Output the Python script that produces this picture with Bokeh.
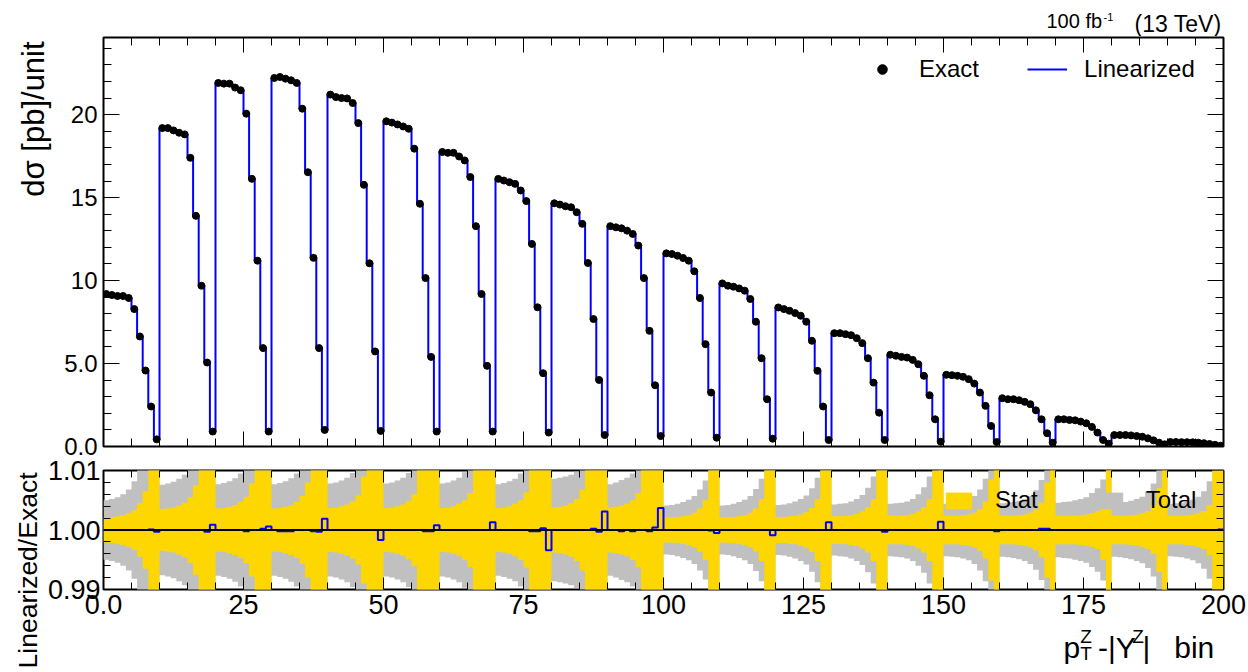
import math
from bokeh.plotting import figure
from bokeh.layouts import column, row
from bokeh.models import FixedTicker, LinearAxis, Legend, LegendItem, Span, Range1d
from bokeh.core.properties import value
from bokeh.embed import file_html
from bokeh.resources import INLINE

FONT = "Liberation Sans"

# ---------------- data ----------------
# 20 groups (pT bins) x 10 sub-bins (|Y| bins)
exact_groups = [
    [9.19, 9.13, 9.07, 9.07, 8.95, 8.28, 6.63, 4.58, 2.41, 0.43],
    [19.19, 19.19, 19.05, 18.91, 18.81, 17.40, 13.90, 9.69, 5.06, 0.90],
    [21.91, 21.87, 21.87, 21.63, 21.47, 20.06, 16.13, 11.20, 5.93, 0.90],
    [22.21, 22.27, 22.17, 22.07, 21.91, 20.36, 16.53, 11.37, 5.93, 1.00],
    [21.21, 21.06, 21.00, 20.98, 20.70, 19.49, 15.77, 11.04, 5.73, 0.94],
    [19.60, 19.52, 19.41, 19.29, 19.15, 17.95, 14.63, 10.15, 5.40, 0.90],
    [17.75, 17.70, 17.70, 17.48, 17.24, 16.24, 13.28, 9.19, 4.86, 0.90],
    [16.13, 16.03, 15.93, 15.83, 15.43, 14.79, 12.21, 8.39, 4.42, 0.84],
    [14.66, 14.58, 14.48, 14.42, 14.12, 13.42, 11.06, 7.68, 4.01, 0.69],
    [13.28, 13.21, 13.15, 13.01, 12.81, 12.11, 10.15, 6.97, 3.69, 0.63],
    [11.64, 11.60, 11.50, 11.36, 11.20, 10.56, 8.95, 6.17, 3.25, 0.53],
    [9.83, 9.69, 9.63, 9.53, 9.39, 8.89, 7.52, 5.32, 2.85, 0.47],
    [8.38, 8.28, 8.18, 8.04, 7.88, 7.52, 6.37, 4.56, 2.41, 0.39],
    [6.83, 6.83, 6.77, 6.71, 6.53, 6.23, 5.32, 3.85, 2.04, 0.39],
    [5.53, 5.47, 5.40, 5.36, 5.22, 4.96, 4.26, 3.09, 1.64, 0.29],
    [4.32, 4.30, 4.26, 4.20, 4.06, 3.79, 3.25, 2.45, 1.24, 0.27],
    [2.91, 2.85, 2.85, 2.79, 2.69, 2.55, 2.18, 1.64, 0.80, 0.23],
    [1.64, 1.64, 1.60, 1.58, 1.50, 1.40, 1.18, 0.84, 0.39, 0.17],
    [0.69, 0.69, 0.69, 0.67, 0.63, 0.59, 0.49, 0.37, 0.23, 0.13],
    [0.27, 0.27, 0.26, 0.26, 0.25, 0.23, 0.20, 0.15, 0.10, 0.05],
]

# Linearized / Exact
ratio_groups = [
    [1.0, 1.0, 1.0, 1.0, 1.0, 1.0, 1.0, 1.0, 1.0001, 0.9997],
    [1.0, 1.0, 1.0, 1.0, 1.0, 1.0, 1.0, 1.0, 0.9997, 1.0009],
    [1.0, 1.0, 1.0, 1.0, 1.0, 0.9998, 1.0, 1.0, 1.0002, 1.0006],
    [1.0, 0.9998, 0.9998, 0.9998, 1.0, 1.0, 1.0, 0.9998, 0.9997, 1.0019],
    [1.0, 1.0, 1.0, 1.0, 1.0, 1.0, 1.0, 1.0, 1.0, 0.9983],
    [1.0, 1.0, 1.0, 1.0, 1.0, 1.0, 1.0, 0.9998, 0.9998, 1.0008],
    [1.0, 1.0, 1.0, 1.0, 1.0, 1.0, 1.0, 1.0, 1.0, 1.0013],
    [1.0, 1.0, 1.0, 1.0, 1.0, 1.0, 0.9998, 0.9998, 1.0003, 0.9966],
    [1.0, 1.0, 1.0, 1.0, 1.0, 1.0, 1.0, 1.0002, 0.9997, 1.0031],
    [1.0, 1.0, 0.9998, 1.0, 0.9998, 1.0, 1.0, 0.9998, 1.0004, 1.0037],
    [1.0, 1.0, 1.0, 1.0, 1.0, 1.0, 1.0, 1.0, 0.9999, 0.9995],
    [1.0, 1.0, 1.0, 1.0, 1.0, 1.0, 1.0, 1.0, 1.0, 0.9991],
    [1.0, 1.0, 1.0, 1.0, 1.0, 1.0, 1.0, 1.0, 1.0, 1.0013],
    [1.0, 1.0, 1.0, 1.0, 1.0, 1.0, 1.0, 1.0, 1.0, 0.9997],
    [1.0, 1.0, 1.0, 1.0, 1.0, 1.0, 1.0, 1.0, 1.0, 1.0014],
    [1.0, 1.0, 1.0, 1.0, 1.0, 1.0, 1.0, 1.0, 1.0, 0.9998],
    [1.0, 1.0, 1.0, 1.0, 1.0, 1.0, 1.0, 1.0002, 1.0002, 1.0],
    [1.0, 1.0, 1.0, 1.0, 1.0, 1.0, 1.0, 1.0, 1.0, 1.0],
    [1.0, 1.0, 1.0, 1.0, 1.0, 1.0, 1.0, 1.0, 1.0, 1.0],
    [1.0, 1.0, 1.0, 1.0, 1.0, 1.0, 1.0, 1.0, 1.0, 1.0001],
]

# relative half-widths of the uncertainty bands
stat_groups = [
    [0.0021, 0.0022, 0.0023, 0.0025, 0.0028, 0.0033, 0.0045, 0.0065, 0.0150, 0.0300],
    [0.0035, 0.0036, 0.0038, 0.0041, 0.0046, 0.0055, 0.0075, 0.0120, 0.0250, 0.0450],
    [0.0036, 0.0037, 0.0039, 0.0042, 0.0047, 0.0056, 0.0078, 0.0130, 0.0250, 0.0450],
    [0.0036, 0.0037, 0.0039, 0.0042, 0.0047, 0.0057, 0.0080, 0.0140, 0.0260, 0.0450],
    [0.0037, 0.0038, 0.0040, 0.0043, 0.0048, 0.0058, 0.0090, 0.0160, 0.0280, 0.0480],
    [0.0037, 0.0038, 0.0040, 0.0043, 0.0049, 0.0060, 0.0105, 0.0180, 0.0300, 0.0500],
    [0.0037, 0.0038, 0.0040, 0.0044, 0.0050, 0.0062, 0.0110, 0.0190, 0.0300, 0.0500],
    [0.0037, 0.0038, 0.0040, 0.0044, 0.0050, 0.0063, 0.0115, 0.0200, 0.0320, 0.0520],
    [0.0038, 0.0039, 0.0041, 0.0045, 0.0052, 0.0068, 0.0120, 0.0200, 0.0320, 0.0520],
    [0.0038, 0.0039, 0.0041, 0.0044, 0.0050, 0.0062, 0.0115, 0.0200, 0.0320, 0.0550],
    [0.0021, 0.0021, 0.0022, 0.0023, 0.0025, 0.0029, 0.0036, 0.0050, 0.0120, 0.0250],
    [0.0021, 0.0022, 0.0022, 0.0023, 0.0025, 0.0029, 0.0036, 0.0052, 0.0120, 0.0250],
    [0.0022, 0.0022, 0.0023, 0.0024, 0.0026, 0.0030, 0.0037, 0.0052, 0.0110, 0.0250],
    [0.0023, 0.0023, 0.0024, 0.0025, 0.0027, 0.0031, 0.0038, 0.0052, 0.0105, 0.0250],
    [0.0024, 0.0024, 0.0024, 0.0025, 0.0027, 0.0031, 0.0038, 0.0052, 0.0100, 0.0250],
    [0.0024, 0.0024, 0.0024, 0.0025, 0.0026, 0.0029, 0.0035, 0.0048, 0.0085, 0.0250],
    [0.0024, 0.0024, 0.0024, 0.0025, 0.0026, 0.0029, 0.0034, 0.0046, 0.0080, 0.0250],
    [0.0024, 0.0024, 0.0024, 0.0024, 0.0025, 0.0026, 0.0028, 0.0032, 0.0050, 0.0250],
    [0.0024, 0.0024, 0.0024, 0.0025, 0.0026, 0.0028, 0.0032, 0.0040, 0.0070, 0.0250],
    [0.0024, 0.0024, 0.0024, 0.0025, 0.0026, 0.0028, 0.0032, 0.0042, 0.0150, 0.0300],
]

total_groups = [
    [0.0050, 0.0052, 0.0055, 0.0060, 0.0068, 0.0082, 0.0110, 0.0150, 0.0220, 0.0350],
    [0.0076, 0.0078, 0.0081, 0.0086, 0.0093, 0.0108, 0.0140, 0.0200, 0.0300, 0.0500],
    [0.0077, 0.0079, 0.0082, 0.0087, 0.0095, 0.0110, 0.0145, 0.0210, 0.0300, 0.0500],
    [0.0077, 0.0079, 0.0082, 0.0087, 0.0095, 0.0110, 0.0150, 0.0220, 0.0320, 0.0500],
    [0.0078, 0.0080, 0.0083, 0.0088, 0.0096, 0.0112, 0.0160, 0.0240, 0.0340, 0.0520],
    [0.0078, 0.0080, 0.0083, 0.0088, 0.0096, 0.0112, 0.0165, 0.0250, 0.0350, 0.0550],
    [0.0078, 0.0080, 0.0083, 0.0088, 0.0097, 0.0115, 0.0170, 0.0250, 0.0350, 0.0550],
    [0.0077, 0.0079, 0.0082, 0.0086, 0.0095, 0.0112, 0.0170, 0.0260, 0.0360, 0.0560],
    [0.0086, 0.0088, 0.0090, 0.0093, 0.0098, 0.0115, 0.0170, 0.0260, 0.0360, 0.0560],
    [0.0077, 0.0080, 0.0084, 0.0088, 0.0095, 0.0105, 0.0160, 0.0250, 0.0350, 0.0580],
    [0.0041, 0.0042, 0.0044, 0.0047, 0.0051, 0.0057, 0.0068, 0.0083, 0.0130, 0.0270],
    [0.0041, 0.0042, 0.0044, 0.0047, 0.0051, 0.0057, 0.0069, 0.0086, 0.0130, 0.0270],
    [0.0042, 0.0043, 0.0045, 0.0048, 0.0052, 0.0058, 0.0070, 0.0088, 0.0125, 0.0270],
    [0.0043, 0.0044, 0.0045, 0.0048, 0.0052, 0.0059, 0.0071, 0.0090, 0.0125, 0.0270],
    [0.0044, 0.0045, 0.0046, 0.0048, 0.0052, 0.0060, 0.0072, 0.0090, 0.0130, 0.0270],
    [0.0044, 0.0045, 0.0046, 0.0048, 0.0051, 0.0057, 0.0068, 0.0086, 0.0120, 0.0270],
    [0.0045, 0.0046, 0.0047, 0.0049, 0.0052, 0.0057, 0.0067, 0.0084, 0.0115, 0.0270],
    [0.0046, 0.0047, 0.0048, 0.0050, 0.0052, 0.0055, 0.0062, 0.0070, 0.0085, 0.0270],
    [0.0045, 0.0046, 0.0047, 0.0049, 0.0052, 0.0056, 0.0064, 0.0078, 0.0105, 0.0270],
    [0.0044, 0.0045, 0.0046, 0.0048, 0.0051, 0.0056, 0.0065, 0.0082, 0.0160, 0.0320],
]

x_major_ticks = [0, 25, 50, 75, 100, 125, 150, 175, 200]
x_major_labels = ["0.0", "25", "50", "75", "100", "125", "150", "175", "200"]
x_minor_step = 5
y_top_ticks = [0, 5, 10, 15, 20]
y_top_labels = ["0.0", "5.0", "10", "15", "20"]
y_ratio_ticks = [0.99, 1.00, 1.01]
y_ratio_labels = ["0.99", "1.00", "1.01"]
y_ratio_minor = [0.992, 0.994, 0.996, 0.998, 1.002, 1.004, 1.006, 1.008]

# ---------------- derived arrays ----------------
exact = [v for g in exact_groups for v in g]
ratio = [v for g in ratio_groups for v in g]
stat = [v for g in stat_groups for v in g]
total = [v for g in total_groups for v in g]
linearized = [e * r for e, r in zip(exact, ratio)]
nbins = len(exact)
edges = list(range(nbins + 1))
centers = [b + 0.5 for b in range(nbins)]


def closed(vals):
    return list(vals) + [vals[-1]]


X_LO, X_HI = 0, nbins
Y_TOP = 24.65
R_LO, R_HI = 0.99, 1.01

x_minor = [v for v in range(X_LO, X_HI + 1, x_minor_step) if v not in x_major_ticks]
y_top_minor = [v for v in range(0, 25) if v not in y_top_ticks]

# ---------------- page geometry (px) ----------------
W, H = 1248, 672
FRAME_L, FRAME_R = 103, 1223
HDR_H = 36                 # header strip
P1_T, P1_B = 36, 457       # top panel canvas
F1_T, F1_B = 37, 446       # top panel frame
P2_T, P2_B = 457, 626      # ratio panel canvas
F2_T, F2_B = 470, 589      # ratio panel frame
STRIP1_W = 52              # left strip beside top panel
STRIP2_W = 44              # left strip beside ratio panel
MID = 0.35                 # baseline -> middle offset, in em
XT_SHIFT = 14              # measured horizontal correction of the x-title strip


def style_axis(ax, ticker, major_in, minor_in, show=True, size="24px",
               overrides=None, standoff=6, fixed=None):
    ax.ticker = ticker
    ax.axis_line_color = None
    ax.major_tick_in = major_in
    ax.major_tick_out = 0
    ax.minor_tick_in = minor_in
    ax.minor_tick_out = 0
    ax.major_tick_line_color = "black"
    ax.minor_tick_line_color = "black"
    ax.major_tick_line_width = 1
    ax.minor_tick_line_width = 1
    if show:
        ax.major_label_text_font = FONT
        ax.major_label_text_font_size = size
        ax.major_label_text_color = "black"
        ax.major_label_standoff = standoff
        if overrides:
            ax.major_label_overrides = overrides
    else:
        ax.major_label_text_font_size = "0px"
        ax.major_label_text_alpha = 0
        ax.major_label_standoff = 0
    if fixed is not None:
        ax.fixed_location = fixed


def panel_fig(left_px, canvas_t, canvas_b, frame_t, frame_b, y_range):
    p = figure(width=W - left_px, height=canvas_b - canvas_t,
               x_range=Range1d(X_LO, X_HI), y_range=y_range,
               output_backend="svg", toolbar_location=None,
               min_border_left=FRAME_L - left_px, min_border_right=W - FRAME_R,
               min_border_top=frame_t - canvas_t, min_border_bottom=canvas_b - frame_b)
    p.grid.visible = False
    p.outline_line_color = "black"
    p.outline_line_width = 2
    p.background_fill_color = "white"
    p.border_fill_color = "white"
    return p


def text_fig(w, h):
    f = figure(width=w, height=h, x_range=Range1d(0, w), y_range=Range1d(0, h),
               output_backend="svg", toolbar_location=None, min_border=0,
               min_border_left=0, min_border_right=0, min_border_top=0,
               min_border_bottom=0, x_axis_type=None, y_axis_type=None)
    f.outline_line_color = None
    f.background_fill_color = "white"
    f.border_fill_color = "white"
    return f


def put_text(f, x, y, s, size_px, align="left", rotated=False):
    """(x, y) is the baseline anchor in figure pixels; drawn with a middle baseline."""
    shift = MID * size_px
    if rotated:
        x, angle = x - shift, math.pi / 2
    else:
        y, angle = y + shift, 0.0
    f.text(x=[x], y=[y], text=[s], text_font=value(FONT),
           text_font_size=value(f"{size_px}px"),
           text_align=value(align), text_baseline=value("middle"), angle=angle,
           text_color="black")

# ---------------- top panel ----------------
p1 = panel_fig(STRIP1_W, P1_T, P1_B, F1_T, F1_B, Range1d(0, Y_TOP))
style_axis(p1.xaxis[0], FixedTicker(ticks=x_major_ticks, minor_ticks=x_minor), 15, 8,
           show=False, fixed=0)
style_axis(p1.yaxis[0], FixedTicker(ticks=y_top_ticks, minor_ticks=y_top_minor), 16, 8,
           show=True, size="24px",
           overrides={t: l for t, l in zip(y_top_ticks, y_top_labels)}, standoff=6)
ax_top = LinearAxis()
style_axis(ax_top, FixedTicker(ticks=x_major_ticks, minor_ticks=x_minor), 15, 8,
           show=False, fixed=Y_TOP)
p1.add_layout(ax_top, "above")
ax_right = LinearAxis()
style_axis(ax_right, FixedTicker(ticks=y_top_ticks, minor_ticks=y_top_minor), 16, 8,
           show=False, fixed=X_HI)
p1.add_layout(ax_right, "right")

r_lin = p1.step(x=edges, y=closed(linearized), mode="after", line_color="#0000ff",
                line_width=2)
r_pts = p1.scatter(x=centers, y=exact, size=7, marker="circle",
                   fill_color="black", line_color="black")

leg1 = Legend(items=[LegendItem(label="Exact", renderers=[r_pts]),
                     LegendItem(label="Linearized", renderers=[r_lin])],
              orientation="horizontal", location=(759, 363),
              glyph_width=40, glyph_height=24, label_standoff=17, spacing=48,
              padding=0, margin=0, border_line_color=None, background_fill_alpha=0,
              label_text_font=FONT, label_text_font_size="24px", label_text_color="black")
p1.add_layout(leg1)

# ---------------- ratio panel ----------------
p2 = panel_fig(STRIP2_W, P2_T, P2_B, F2_T, F2_B, Range1d(R_LO, R_HI))
style_axis(p2.xaxis[0], FixedTicker(ticks=x_major_ticks, minor_ticks=x_minor), 12, 7,
           show=True, size="27px",
           overrides={t: l for t, l in zip(x_major_ticks, x_major_labels)}, standoff=5)
style_axis(p2.yaxis[0], FixedTicker(ticks=y_ratio_ticks, minor_ticks=y_ratio_minor), 15, 7,
           show=True, size="27px",
           overrides={t: l for t, l in zip(y_ratio_ticks, y_ratio_labels)}, standoff=3)
ax2_top = LinearAxis()
style_axis(ax2_top, FixedTicker(ticks=x_major_ticks, minor_ticks=x_minor), 12, 7,
           show=False, fixed=R_HI)
p2.add_layout(ax2_top, "above")
ax2_right = LinearAxis()
style_axis(ax2_right, FixedTicker(ticks=y_ratio_ticks, minor_ticks=y_ratio_minor), 15, 7,
           show=False, fixed=X_HI)
p2.add_layout(ax2_right, "right")

tot_lo = [1 - t for t in total]
tot_hi = [1 + t for t in total]
st_lo = [1 - s for s in stat]
st_hi = [1 + s for s in stat]
r_tot = p2.varea_step(x=edges, y1=closed(tot_lo), y2=closed(tot_hi), step_mode="after",
                      fill_color="#c0c0c0")
r_stat = p2.varea_step(x=edges, y1=closed(st_lo), y2=closed(st_hi), step_mode="after",
                       fill_color="#ffd700")
p2.step(x=edges, y=closed(ratio), mode="after", line_color="#0000ff", line_width=2)
p2.add_layout(Span(location=1.0, dimension="width", line_color="black", line_width=2))

leg2 = Legend(items=[LegendItem(label="Stat", renderers=[r_stat]),
                     LegendItem(label="Total", renderers=[r_tot])],
              orientation="horizontal", location=(839, 75),
              glyph_width=33, glyph_height=21, label_standoff=20, spacing=55,
              padding=0, margin=0, border_line_color=None, background_fill_alpha=0,
              label_text_font=FONT, label_text_font_size="24px", label_text_color="black")
p2.add_layout(leg2)

# ---------------- text strips (titles outside the frames) ----------------
header = text_fig(W, HDR_H)
put_text(header, 1221, HDR_H - 32, "(13 TeV)", 23, align="right")
put_text(header, 1046, HDR_H - 27, "100 fb", 20)
put_text(header, 1103, HDR_H - 20, "-1", 11)

strip1 = text_fig(STRIP1_W, P1_B - P1_T)
put_text(strip1, 44, (P1_B - P1_T) - (40 - P1_T), "dσ [pb]/unit", 31,
         align="right", rotated=True)

strip2 = text_fig(STRIP2_W, H - P2_T)
put_text(strip2, 37, H - 472, "Linearized/Exact", 26.5, align="right", rotated=True)

xtitle = text_fig(W - STRIP2_W, H - P2_B)


def xt(px, py, s, size, extra=0):
    put_text(xtitle, px - STRIP2_W + XT_SHIFT + extra, H - py, s, size)


xt(1062, 657, "p", 30)
xt(1080, 643, "Z", 19)
xt(1080, 660, "T", 19)
xt(1095, 657, "-|Y", 30, extra=4)
xt(1132, 643, "Z", 19, extra=4)
xt(1143, 657, "|", 30, extra=4)
xt(1169, 657, "bin", 30, extra=12)

layout = column(
    header,
    row(strip1, p1, spacing=0),
    row(strip2, column(p2, xtitle, spacing=0), spacing=0),
    spacing=0,
)

with open("out.html", "w") as f:
    f.write(file_html(layout, INLINE, title="Linearized vs Exact"))
